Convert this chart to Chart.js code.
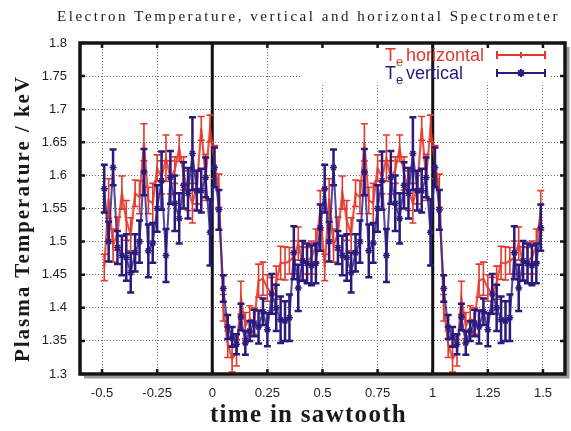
<!DOCTYPE html>
<html>
<head>
<meta charset="utf-8">
<script src="https://cdn.jsdelivr.net/npm/chart.js@4.4.1/dist/chart.umd.min.js"></script>
<style>
  html, body { margin: 0; padding: 0; background: #fff; }
</style>
</head>
<body>
<canvas id="teChart" width="571" height="431"></canvas>
<script>
// one sawtooth period, sampled every 0.02 (plotted twice: period 0 and period 1)
var phase = [-0.49, -0.47, -0.45, -0.43, -0.41, -0.39, -0.37, -0.35, -0.33, -0.31,
             -0.29, -0.27, -0.25, -0.23, -0.21, -0.19, -0.17, -0.15, -0.13, -0.11,
             -0.09, -0.07, -0.05, -0.03, -0.01, 0.01, 0.03, 0.05, 0.07, 0.09,
             0.11, 0.13, 0.15, 0.17, 0.19, 0.21, 0.23, 0.25, 0.27, 0.29,
             0.31, 0.33, 0.35, 0.37, 0.39, 0.41, 0.43, 0.45, 0.47, 0.49];
var periods = [0, 1];

var teHorizontal = [1.461, 1.565, 1.494, 1.512, 1.574, 1.532, 1.511, 1.573, 1.567, 1.650,
                    1.562, 1.558, 1.611, 1.597, 1.626, 1.597, 1.608, 1.641, 1.603, 1.577,
                    1.558, 1.582, 1.671, 1.597, 1.671, 1.620, 1.577, 1.400, 1.345, 1.323,
                    1.332, 1.415, 1.373, 1.383, 1.380, 1.441, 1.444, 1.430, 1.421, 1.438,
                    1.468, 1.467, 1.471, 1.476, 1.497, 1.467, 1.471, 1.476, 1.494, 1.547];
var teHorizontalErr = [0.020, 0.030, 0.025, 0.025, 0.025, 0.030, 0.025, 0.020, 0.025, 0.028,
                       0.020, 0.030, 0.020, 0.025, 0.035, 0.025, 0.020, 0.020, 0.025, 0.030,
                       0.030, 0.025, 0.018, 0.035, 0.020, 0.025, 0.025, 0.020, 0.020, 0.020,
                       0.020, 0.025, 0.020, 0.020, 0.020, 0.025, 0.025, 0.020, 0.025, 0.025,
                       0.025, 0.025, 0.020, 0.025, 0.025, 0.025, 0.020, 0.025, 0.025, 0.030];

var teVertical = [1.580, 1.500, 1.612, 1.491, 1.479, 1.476, 1.453, 1.483, 1.500, 1.605,
                  1.486, 1.498, 1.550, 1.592, 1.479, 1.597, 1.558, 1.535, 1.585, 1.573,
                  1.633, 1.577, 1.577, 1.597, 1.514, 1.612, 1.548, 1.429, 1.371, 1.356,
                  1.345, 1.386, 1.347, 1.365, 1.377, 1.371, 1.394, 1.367, 1.421, 1.400,
                  1.382, 1.380, 1.385, 1.483, 1.430, 1.471, 1.467, 1.464, 1.467, 1.521];
var teVerticalErr = [0.036, 0.030, 0.027, 0.025, 0.030, 0.035, 0.030, 0.028, 0.032, 0.035,
                     0.040, 0.030, 0.035, 0.044, 0.040, 0.040, 0.042, 0.038, 0.035, 0.038,
                     0.055, 0.030, 0.033, 0.030, 0.050, 0.030, 0.030, 0.020, 0.018, 0.015,
                     0.015, 0.020, 0.018, 0.015, 0.020, 0.025, 0.020, 0.025, 0.030, 0.035,
                     0.035, 0.030, 0.035, 0.040, 0.035, 0.030, 0.030, 0.030, 0.030, 0.035];

var xTicks = [-0.5, -0.25, 0, 0.25, 0.5, 0.75, 1, 1.25, 1.5];
var yTicks = [1.3, 1.35, 1.4, 1.45, 1.5, 1.55, 1.6, 1.65, 1.7, 1.75, 1.8];
var crashTimes = [0, 1];

var RED = '#e4382c';
var BLUE = '#2b1a7c';

function periodic(vals) {
  var pts = [];
  periods.forEach(function(p) {
    phase.forEach(function(t, i) { pts.push({ x: +(t + p).toFixed(2), y: vals[i] }); });
  });
  return pts;
}
function periodicErr(errs) {
  var out = [];
  periods.forEach(function() { out = out.concat(errs); });
  return out;
}

function spacedText(ctx, text, left, y, width) {
  ctx.letterSpacing = '0px';
  var w = ctx.measureText(text).width;
  ctx.letterSpacing = ((width - w) / text.length) + 'px';
  ctx.fillText(text, left, y);
  ctx.letterSpacing = '0px';
}

var decor = {
  id: 'decor',
  beforeDatasetsDraw: function(chart) {
    var ctx = chart.ctx, a = chart.chartArea, xs = chart.scales.x, ys = chart.scales.y;
    ctx.save();
    // legend backdrop hides the grid behind it
    ctx.fillStyle = '#fff';
    var l = xs.getPixelForValue(0.4), r = xs.getPixelForValue(1.535);
    ctx.fillRect(l, a.top, r - l, ys.getPixelForValue(1.74) - a.top);
    // sawtooth crash markers
    ctx.strokeStyle = '#111';
    ctx.lineWidth = 3;
    crashTimes.forEach(function(t) {
      var px = xs.getPixelForValue(t);
      ctx.beginPath(); ctx.moveTo(px, a.top); ctx.lineTo(px, a.bottom); ctx.stroke();
    });
    ctx.restore();
  },
  afterDatasetDraw: function(chart, args) {
    var ds = chart.data.datasets[args.index];
    if (!ds.errs) return;
    var ctx = chart.ctx, ys = chart.scales.y;
    ctx.save();
    ctx.strokeStyle = ds.barColor;
    ctx.lineWidth = ds.barWidth;
    args.meta.data.forEach(function(pt, i) {
      var v = ds.data[i].y, e = ds.errs[i];
      var y1 = ys.getPixelForValue(v - e), y2 = ys.getPixelForValue(v + e);
      ctx.beginPath();
      ctx.moveTo(pt.x, y1); ctx.lineTo(pt.x, y2);
      ctx.moveTo(pt.x - 3.5, y1); ctx.lineTo(pt.x + 3.5, y1);
      ctx.moveTo(pt.x - 3.5, y2); ctx.lineTo(pt.x + 3.5, y2);
      ctx.stroke();
    });
    ctx.restore();
  },
  afterDraw: function(chart) {
    var ctx = chart.ctx, a = chart.chartArea, xs = chart.scales.x, ys = chart.scales.y;
    ctx.save();
    // frame shadow + frame
    ctx.strokeStyle = '#9a9a9a';
    ctx.lineWidth = 3;
    ctx.beginPath();
    ctx.moveTo(a.right + 3, a.top + 4); ctx.lineTo(a.right + 3, a.bottom + 3); ctx.lineTo(a.left + 4, a.bottom + 3);
    ctx.stroke();
    ctx.strokeStyle = '#161412';
    ctx.lineWidth = 3.5;
    ctx.strokeRect(a.left, a.top, a.right - a.left, a.bottom - a.top);
    // inner tick marks
    ctx.lineWidth = 2.5;
    ctx.beginPath();
    xTicks.forEach(function(t) {
      var px = xs.getPixelForValue(t);
      ctx.moveTo(px, a.top); ctx.lineTo(px, a.top + 5);
      ctx.moveTo(px, a.bottom); ctx.lineTo(px, a.bottom - 5);
    });
    yTicks.forEach(function(t) {
      var py = ys.getPixelForValue(t);
      ctx.moveTo(a.left, py); ctx.lineTo(a.left + 5, py);
      ctx.moveTo(a.right, py); ctx.lineTo(a.right - 5, py);
    });
    ctx.stroke();

    // legend
    var rows = [
      { label: 'horizontal', color: RED, y: 61, sy: 55, star: false },
      { label: 'vertical', color: BLUE, y: 79, sy: 73, star: true }
    ];
    rows.forEach(function(row) {
      ctx.fillStyle = row.color;
      ctx.textAlign = 'left';
      ctx.textBaseline = 'alphabetic';
      ctx.font = '18px "Liberation Sans", Arial, sans-serif';
      ctx.fillText('T', 385, row.y);
      ctx.font = '13px "Liberation Sans", Arial, sans-serif';
      ctx.fillText('e', 396, row.y + 5);
      ctx.font = '18px "Liberation Sans", Arial, sans-serif';
      ctx.fillText(row.label, 406, row.y);
      ctx.strokeStyle = row.color;
      ctx.lineWidth = 2;
      ctx.beginPath();
      ctx.moveTo(497, row.sy); ctx.lineTo(545, row.sy);
      ctx.moveTo(497, row.sy - 4); ctx.lineTo(497, row.sy + 4);
      ctx.moveTo(545, row.sy - 4); ctx.lineTo(545, row.sy + 4);
      if (!row.star) { ctx.moveTo(521, row.sy - 3); ctx.lineTo(521, row.sy + 3); }
      ctx.stroke();
      if (row.star) {
        Chart.helpers.drawPoint(ctx, { pointStyle: 'star', radius: 4, borderWidth: 1.5 }, 521, row.sy);
      }
    });

    // titles
    ctx.fillStyle = '#1a1a1a';
    ctx.textAlign = 'left';
    ctx.textBaseline = 'alphabetic';
    ctx.font = '15px "Liberation Serif", "Times New Roman", serif';
    spacedText(ctx, 'Electron Temperature, vertical and horizontal Spectrometer', 57, 21, 503);
    ctx.font = 'bold 25px "Liberation Serif", "Times New Roman", serif';
    spacedText(ctx, 'time in sawtooth', 210, 422, 197);
    ctx.translate(29, 362);
    ctx.rotate(-Math.PI / 2);
    ctx.font = 'bold 21px "Liberation Serif", "Times New Roman", serif';
    spacedText(ctx, 'Plasma Temperature / keV', 0, 0, 287);
    ctx.restore();
  }
};

var ctx = document.getElementById('teChart');
var teChart = new Chart(ctx, {
  type: 'line',
  data: {
    datasets: [{
      label: 'Te vertical',
      data: periodic(teVertical),
      errs: periodicErr(teVerticalErr),
      barColor: BLUE,
      barWidth: 2.5,
      borderColor: 'rgba(52,36,138,0.85)',
      borderWidth: 2,
      pointStyle: 'star',
      pointRadius: 3.5,
      pointBorderWidth: 1.5,
      pointBorderColor: BLUE,
      pointBackgroundColor: BLUE,
      tension: 0
    }, {
      label: 'Te horizontal',
      data: periodic(teHorizontal),
      errs: periodicErr(teHorizontalErr),
      barColor: RED,
      barWidth: 1.6,
      borderColor: 'rgba(228,56,44,0.85)',
      borderWidth: 2.2,
      pointRadius: 0,
      tension: 0
    }]
  },
  options: {
    responsive: false,
    animation: false,
    devicePixelRatio: 1,
    layout: { padding: { top: 43, right: 6, left: 0, bottom: 0 } },
    plugins: {
      legend: { display: false },
      title: { display: false },
      tooltip: { enabled: false }
    },
    scales: {
      x: {
        type: 'linear',
        min: -0.6,
        max: 1.6,
        afterFit: function(s) { s.height = 57; },
        afterBuildTicks: function(s) { s.ticks = xTicks.map(function(v) { return { value: v }; }); },
        grid: { color: '#6a6a6a', lineWidth: 1, drawTicks: false },
        border: { display: false, dash: [1, 2] },
        ticks: {
          padding: 12,
          color: '#222',
          font: { family: '"Liberation Sans", Arial, sans-serif', size: 13 },
          callback: function(v) { return String(+v.toFixed(2)); }
        }
      },
      y: {
        min: 1.3,
        max: 1.8,
        afterFit: function(s) { s.width = 80; },
        afterBuildTicks: function(s) { s.ticks = yTicks.map(function(v) { return { value: v }; }); },
        grid: { color: '#6a6a6a', lineWidth: 1, drawTicks: false },
        border: { display: false, dash: [1, 2] },
        ticks: {
          padding: 13,
          color: '#222',
          font: { family: '"Liberation Sans", Arial, sans-serif', size: 13 },
          callback: function(v) { return String(+v.toFixed(2)); }
        }
      }
    }
  },
  plugins: [decor]
});
</script>
</body>
</html>
